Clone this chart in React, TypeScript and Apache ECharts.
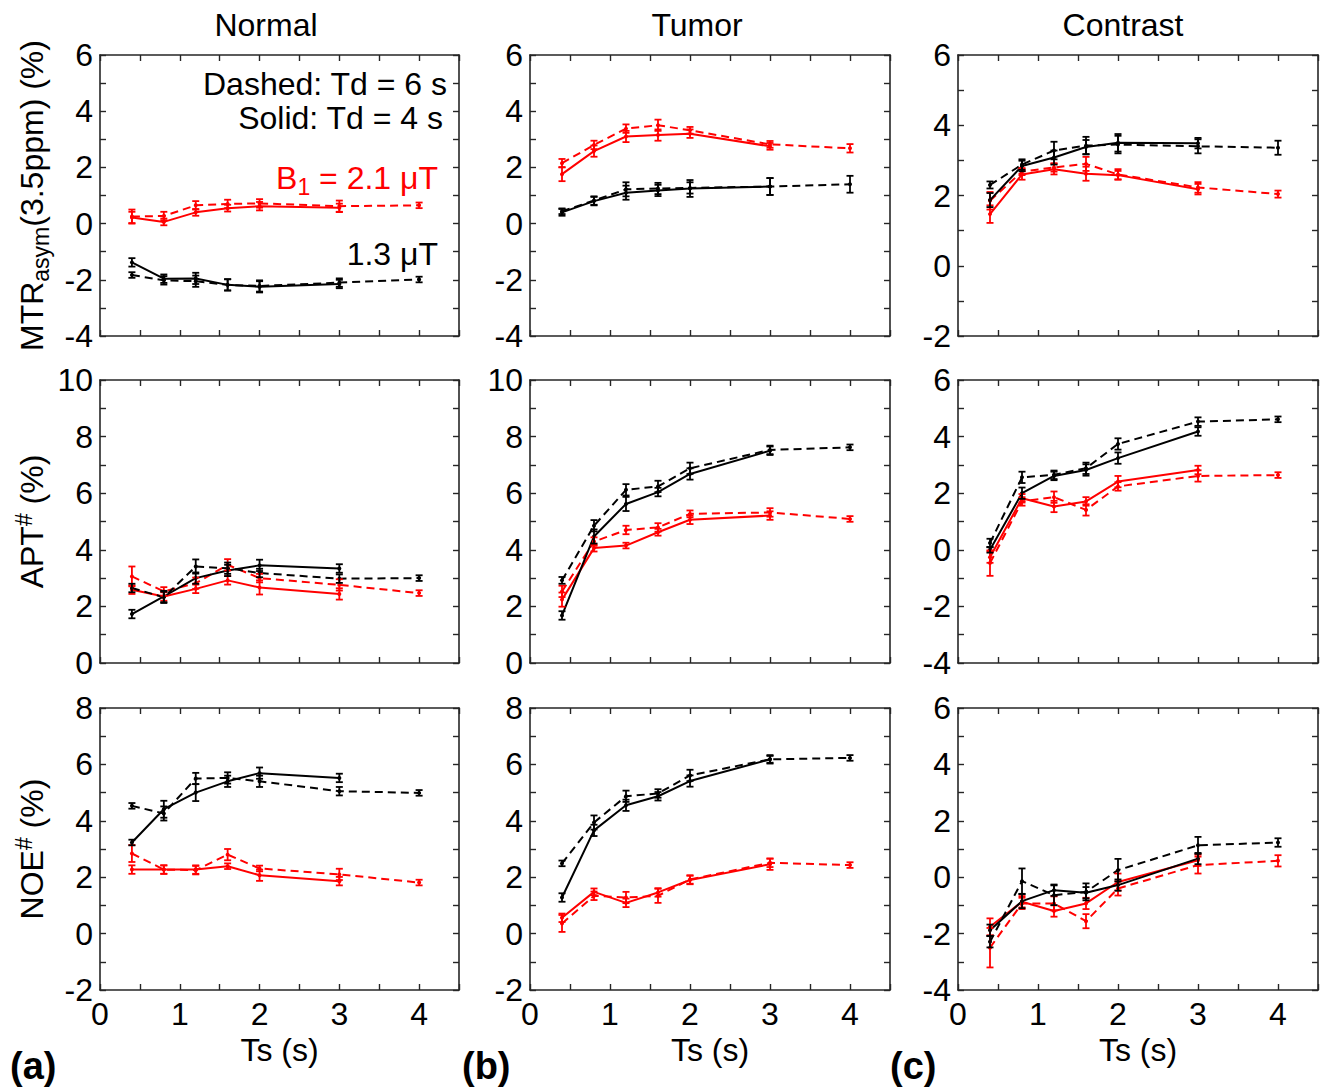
import React, { useEffect, useRef } from 'react';
import * as echarts from 'echarts';

// ---------- data ----------
const TS_SOLID = [0.4, 0.8, 1.2, 1.6, 2, 3];
const TS_DASHED = [0.4, 0.8, 1.2, 1.6, 2, 3, 4];
const COLUMN_TITLES = ['Normal', 'Tumor', 'Contrast'];
const PANEL_LABELS = ['(a)', '(b)', '(c)'];
const X_LABEL = 'Ts (s)';
const Y_RANGES = [
  [[-4, 6], [-4, 6], [-2, 6]],
  [[0, 10], [0, 10], [-4, 6]],
  [[-2, 8], [-2, 8], [-4, 6]],
];

// MTRasym(3.5ppm)
const mtrNormalRedDashed = [0.25, 0.27, 0.65, 0.7, 0.72, 0.62, 0.65];
const mtrNormalRedDashedErr = [0.25, 0.15, 0.15, 0.15, 0.15, 0.2, 0.1];
const mtrNormalRedSolid = [0.22, 0.06, 0.4, 0.55, 0.62, 0.56];
const mtrNormalRedSolidErr = [0.2, 0.12, 0.12, 0.12, 0.15, 0.15];
const mtrNormalBlackSolid = [-1.38, -1.96, -1.95, -2.18, -2.25, -2.15];
const mtrNormalBlackSolidErr = [0.15, 0.15, 0.2, 0.2, 0.2, 0.15];
const mtrNormalBlackDashed = [-1.83, -2.02, -2.05, -2.18, -2.22, -2.1, -1.99];
const mtrNormalBlackDashedErr = [0.1, 0.15, 0.2, 0.2, 0.2, 0.15, 0.1];

const mtrTumorRedDashed = [2.15, 2.8, 3.38, 3.5, 3.32, 2.82, 2.68];
const mtrTumorRedDashedErr = [0.15, 0.15, 0.15, 0.2, 0.12, 0.12, 0.15];
const mtrTumorRedSolid = [1.76, 2.58, 3.1, 3.15, 3.2, 2.75];
const mtrTumorRedSolidErr = [0.25, 0.2, 0.2, 0.2, 0.15, 0.12];
const mtrTumorBlackSolid = [0.4, 0.8, 1.1, 1.18, 1.25, 1.32];
const mtrTumorBlackSolidErr = [0.12, 0.15, 0.25, 0.2, 0.3, 0.3];
const mtrTumorBlackDashed = [0.44, 0.82, 1.22, 1.25, 1.27, 1.32, 1.4];
const mtrTumorBlackDashedErr = [0.1, 0.15, 0.25, 0.2, 0.2, 0.3, 0.3];

const mtrContrastBlackDashed = [2.3, 2.88, 3.28, 3.42, 3.45, 3.4, 3.36];
const mtrContrastBlackDashedErr = [0.1, 0.15, 0.25, 0.25, 0.25, 0.2, 0.2];
const mtrContrastBlackSolid = [1.87, 2.84, 3.08, 3.38, 3.5, 3.49];
const mtrContrastBlackSolidErr = [0.2, 0.15, 0.2, 0.2, 0.25, 0.15];
const mtrContrastRedDashed = [1.85, 2.68, 2.8, 2.9, 2.6, 2.23, 2.04];
const mtrContrastRedDashedErr = [0.25, 0.1, 0.12, 0.2, 0.15, 0.15, 0.1];
const mtrContrastRedSolid = [1.47, 2.6, 2.75, 2.62, 2.58, 2.18];
const mtrContrastRedSolidErr = [0.25, 0.15, 0.15, 0.2, 0.12, 0.15];

// APT#
const aptNormalBlackSolid = [1.73, 2.35, 3.0, 3.27, 3.45, 3.34];
const aptNormalBlackSolidErr = [0.15, 0.2, 0.2, 0.2, 0.2, 0.15];
const aptNormalBlackDashed = [2.65, 2.32, 3.41, 3.35, 3.18, 2.98, 3.0];
const aptNormalBlackDashedErr = [0.15, 0.2, 0.25, 0.2, 0.15, 0.15, 0.1];
const aptNormalRedDashed = [3.06, 2.53, 2.82, 3.47, 3.0, 2.76, 2.47];
const aptNormalRedDashedErr = [0.35, 0.15, 0.2, 0.2, 0.15, 0.2, 0.1];
const aptNormalRedSolid = [2.59, 2.35, 2.62, 2.92, 2.67, 2.44];
const aptNormalRedSolidErr = [0.15, 0.15, 0.15, 0.15, 0.25, 0.2];

const aptTumorBlackDashed = [2.92, 4.85, 6.12, 6.24, 6.88, 7.53, 7.62];
const aptTumorBlackDashedErr = [0.12, 0.2, 0.2, 0.2, 0.2, 0.15, 0.1];
const aptTumorBlackSolid = [1.68, 4.47, 5.62, 6.04, 6.68, 7.5];
const aptTumorBlackSolidErr = [0.15, 0.25, 0.25, 0.15, 0.2, 0.15];
const aptTumorRedDashed = [2.53, 4.29, 4.7, 4.79, 5.27, 5.32, 5.09];
const aptTumorRedDashedErr = [0.2, 0.15, 0.15, 0.15, 0.12, 0.15, 0.1];
const aptTumorRedSolid = [2.24, 4.06, 4.15, 4.62, 5.06, 5.21];
const aptTumorRedSolidErr = [0.25, 0.12, 0.1, 0.12, 0.15, 0.15];

const aptContrastBlackDashed = [0.24, 2.56, 2.65, 2.88, 3.74, 4.53, 4.61];
const aptContrastBlackDashedErr = [0.15, 0.2, 0.15, 0.2, 0.2, 0.15, 0.1];
const aptContrastBlackSolid = [0.0, 2.0, 2.61, 2.82, 3.24, 4.18];
const aptContrastBlackSolidErr = [0.1, 0.2, 0.15, 0.2, 0.2, 0.15];
const aptContrastRedDashed = [-0.47, 1.71, 1.86, 1.41, 2.24, 2.61, 2.64];
const aptContrastRedDashedErr = [0.45, 0.15, 0.2, 0.2, 0.15, 0.2, 0.1];
const aptContrastRedSolid = [-0.26, 1.82, 1.53, 1.71, 2.41, 2.82];
const aptContrastRedSolidErr = [0.2, 0.15, 0.2, 0.15, 0.2, 0.15];

// NOE#
const noeNormalBlackDashed = [4.53, 4.26, 5.5, 5.52, 5.4, 5.05, 4.99];
const noeNormalBlackDashedErr = [0.1, 0.25, 0.2, 0.2, 0.2, 0.15, 0.1];
const noeNormalBlackSolid = [3.23, 4.41, 5.0, 5.4, 5.69, 5.52];
const noeNormalBlackSolidErr = [0.1, 0.3, 0.3, 0.2, 0.2, 0.15];
const noeNormalRedDashed = [2.84, 2.27, 2.25, 2.8, 2.31, 2.1, 1.81];
const noeNormalRedDashedErr = [0.3, 0.15, 0.15, 0.2, 0.1, 0.2, 0.1];
const noeNormalRedSolid = [2.27, 2.27, 2.27, 2.39, 2.07, 1.86];
const noeNormalRedSolidErr = [0.15, 0.15, 0.15, 0.1, 0.2, 0.15];

const noeTumorBlackDashed = [2.49, 3.94, 4.87, 4.97, 5.61, 6.18, 6.23];
const noeTumorBlackDashedErr = [0.1, 0.25, 0.2, 0.15, 0.2, 0.12, 0.1];
const noeTumorBlackSolid = [1.28, 3.66, 4.55, 4.87, 5.41, 6.18];
const noeTumorBlackSolidErr = [0.15, 0.2, 0.2, 0.15, 0.2, 0.15];
const noeTumorRedDashed = [0.36, 1.34, 1.28, 1.34, 1.92, 2.51, 2.43];
const noeTumorRedDashedErr = [0.3, 0.15, 0.2, 0.25, 0.15, 0.15, 0.1];
const noeTumorRedSolid = [0.56, 1.48, 1.09, 1.46, 1.9, 2.46];
const noeTumorRedSolidErr = [0.15, 0.12, 0.15, 0.15, 0.15, 0.2];

const noeContrastBlackDashed = [-2.29, -0.14, -0.64, -0.52, 0.25, 1.13, 1.23];
const noeContrastBlackDashedErr = [0.2, 0.45, 0.35, 0.3, 0.4, 0.3, 0.15];
const noeContrastBlackSolid = [-1.88, -0.85, -0.46, -0.55, -0.28, 0.66];
const noeContrastBlackSolidErr = [0.2, 0.25, 0.2, 0.2, 0.2, 0.2];
const noeContrastRedDashed = [-2.5, -0.93, -0.93, -1.56, -0.4, 0.43, 0.58];
const noeContrastRedDashedErr = [0.7, 0.2, 0.25, 0.25, 0.25, 0.3, 0.2];
const noeContrastRedSolid = [-1.76, -0.87, -1.2, -0.93, -0.17, 0.6];
const noeContrastRedSolidErr = [0.3, 0.2, 0.2, 0.2, 0.3, 0.2];

type SeriesDef = { v: number[]; e: number[]; red: boolean; dashed: boolean };
const mk = (v: number[], e: number[], red: boolean, dashed: boolean): SeriesDef => ({ v, e, red, dashed });

// panels[row][col]
const PANELS: SeriesDef[][][] = [
  [
    [mk(mtrNormalRedDashed, mtrNormalRedDashedErr, true, true), mk(mtrNormalRedSolid, mtrNormalRedSolidErr, true, false),
     mk(mtrNormalBlackDashed, mtrNormalBlackDashedErr, false, true), mk(mtrNormalBlackSolid, mtrNormalBlackSolidErr, false, false)],
    [mk(mtrTumorRedDashed, mtrTumorRedDashedErr, true, true), mk(mtrTumorRedSolid, mtrTumorRedSolidErr, true, false),
     mk(mtrTumorBlackDashed, mtrTumorBlackDashedErr, false, true), mk(mtrTumorBlackSolid, mtrTumorBlackSolidErr, false, false)],
    [mk(mtrContrastRedDashed, mtrContrastRedDashedErr, true, true), mk(mtrContrastRedSolid, mtrContrastRedSolidErr, true, false),
     mk(mtrContrastBlackDashed, mtrContrastBlackDashedErr, false, true), mk(mtrContrastBlackSolid, mtrContrastBlackSolidErr, false, false)],
  ],
  [
    [mk(aptNormalRedDashed, aptNormalRedDashedErr, true, true), mk(aptNormalRedSolid, aptNormalRedSolidErr, true, false),
     mk(aptNormalBlackDashed, aptNormalBlackDashedErr, false, true), mk(aptNormalBlackSolid, aptNormalBlackSolidErr, false, false)],
    [mk(aptTumorRedDashed, aptTumorRedDashedErr, true, true), mk(aptTumorRedSolid, aptTumorRedSolidErr, true, false),
     mk(aptTumorBlackDashed, aptTumorBlackDashedErr, false, true), mk(aptTumorBlackSolid, aptTumorBlackSolidErr, false, false)],
    [mk(aptContrastRedDashed, aptContrastRedDashedErr, true, true), mk(aptContrastRedSolid, aptContrastRedSolidErr, true, false),
     mk(aptContrastBlackDashed, aptContrastBlackDashedErr, false, true), mk(aptContrastBlackSolid, aptContrastBlackSolidErr, false, false)],
  ],
  [
    [mk(noeNormalRedDashed, noeNormalRedDashedErr, true, true), mk(noeNormalRedSolid, noeNormalRedSolidErr, true, false),
     mk(noeNormalBlackDashed, noeNormalBlackDashedErr, false, true), mk(noeNormalBlackSolid, noeNormalBlackSolidErr, false, false)],
    [mk(noeTumorRedDashed, noeTumorRedDashedErr, true, true), mk(noeTumorRedSolid, noeTumorRedSolidErr, true, false),
     mk(noeTumorBlackDashed, noeTumorBlackDashedErr, false, true), mk(noeTumorBlackSolid, noeTumorBlackSolidErr, false, false)],
    [mk(noeContrastRedDashed, noeContrastRedDashedErr, true, true), mk(noeContrastRedSolid, noeContrastRedSolidErr, true, false),
     mk(noeContrastBlackDashed, noeContrastBlackDashedErr, false, true), mk(noeContrastBlackSolid, noeContrastBlackSolidErr, false, false)],
  ],
];

// ---------- layout / style ----------
const FONT = "'Liberation Sans', Arial, Helvetica, sans-serif";
const FS = 32;
const FS_SUB = 23;
const AX = '#262626';
const RED = '#ff0000';
const BLACK = '#000000';
const GRID_LEFT = [100, 530, 958];
const GRID_WIDTH = [359, 360, 360];
const GRID_TOP = [55, 380, 708];
const GRID_HEIGHT = [281, 283, 282];

const errRenderer = (color: string) => (params: any, api: any) => {
  const x = api.value(0);
  const y = api.value(1);
  const e = api.value(2);
  const p1 = api.coord([x, y + e]);
  const p2 = api.coord([x, y - e]);
  const hw = 3.5;
  const style = { stroke: color, lineWidth: 1.8, fill: 'none' };
  return {
    type: 'group',
    children: [
      { type: 'line', shape: { x1: p1[0], y1: p1[1], x2: p2[0], y2: p2[1] }, style },
      { type: 'line', shape: { x1: p1[0] - hw, y1: p1[1], x2: p1[0] + hw, y2: p1[1] }, style },
      { type: 'line', shape: { x1: p2[0] - hw, y1: p2[1], x2: p2[0] + hw, y2: p2[1] }, style },
    ],
  };
};

function buildOption() {
  const grid: any[] = [];
  const xAxis: any[] = [];
  const yAxis: any[] = [];
  const series: any[] = [];
  const axisLine = { show: true, onZero: false, lineStyle: { color: AX, width: 1.6 } };
  const axisTick = { show: true, inside: true, length: 6, lineStyle: { color: AX, width: 1.4 } };
  let gi = 0;
  for (let r = 0; r < 3; r++) {
    for (let c = 0; c < 3; c++) {
      grid.push({ left: GRID_LEFT[c], top: GRID_TOP[r], width: GRID_WIDTH[c], height: GRID_HEIGHT[r], containLabel: false });
      const [ymin, ymax] = Y_RANGES[r][c];
      const xBase = { type: 'value', gridIndex: gi, min: 0, max: 4.5, interval: 0.5, axisLine, axisTick, splitLine: { show: false } };
      xAxis.push({
        ...xBase,
        position: 'bottom',
        axisLabel: {
          show: r === 2,
          formatter: (v: number) => (Math.abs(v - Math.round(v)) < 1e-6 ? String(Math.round(v)) : ''),
          fontSize: FS, color: '#000', fontFamily: FONT, margin: 8,
        },
      });
      xAxis.push({ ...xBase, position: 'top', axisLabel: { show: false } });
      const yBase = { type: 'value', gridIndex: gi, min: ymin, max: ymax, interval: 1, axisLine, axisTick, splitLine: { show: false } };
      yAxis.push({
        ...yBase,
        position: 'left',
        axisLabel: {
          formatter: (v: number) => (Math.round(v) % 2 === 0 ? String(Math.round(v)) : ''),
          fontSize: FS, color: '#000', fontFamily: FONT, margin: 7,
        },
      });
      yAxis.push({ ...yBase, position: 'right', axisLabel: { show: false } });
      for (const s of PANELS[r][c]) {
        const xs = s.dashed ? TS_DASHED : TS_SOLID;
        const color = s.red ? RED : BLACK;
        series.push({
          type: 'line',
          xAxisIndex: 2 * gi,
          yAxisIndex: 2 * gi,
          data: xs.map((x, i) => [x, s.v[i]]),
          symbol: 'circle',
          symbolSize: 4,
          itemStyle: { color },
          lineStyle: { color, width: 2, type: s.dashed ? [8, 5] : 'solid' },
          silent: true,
          z: 3,
        });
        series.push({
          type: 'custom',
          coordinateSystem: 'cartesian2d',
          xAxisIndex: 2 * gi,
          yAxisIndex: 2 * gi,
          data: xs.map((x, i) => [x, s.v[i], s.e[i]]),
          encode: { x: 0, y: 1 },
          renderItem: errRenderer(color),
          silent: true,
          z: 4,
        });
      }
      gi++;
    }
  }

  const graphic: any[] = [];
  const titleX = [266, 697, 1123];
  COLUMN_TITLES.forEach((t, c) => {
    graphic.push({ type: 'text', x: titleX[c], y: 25, style: { text: t, font: `${FS}px ${FONT}`, fill: '#000', textAlign: 'center', textVerticalAlign: 'middle' } });
    graphic.push({ type: 'text', x: GRID_LEFT[c] + GRID_WIDTH[c] / 2, y: 1050, style: { text: X_LABEL, font: `${FS}px ${FONT}`, fill: '#000', textAlign: 'center', textVerticalAlign: 'middle' } });
  });
  const labelX = [10, 462, 890];
  PANEL_LABELS.forEach((t, c) => {
    graphic.push({ type: 'text', x: labelX[c], y: 1066, style: { text: t, font: `bold 38px ${FONT}`, fill: '#000', textAlign: 'left', textVerticalAlign: 'middle' } });
  });
  const rich = {
    n: { fontSize: FS, fontFamily: FONT, lineHeight: 40, fill: '#000', color: '#000' },
    s: { fontSize: FS_SUB, fontFamily: FONT, lineHeight: 22, verticalAlign: 'bottom', fill: '#000', color: '#000' },
    p: { fontSize: FS_SUB, fontFamily: FONT, lineHeight: 22, verticalAlign: 'top', fill: '#000', color: '#000' },
  };
  const yNames = ['{n|MTR}{s|asym}{n|(3.5ppm) (%)}', '{n|APT}{p|#}{n| (%)}', '{n|NOE}{p|#}{n| (%)}'];
  yNames.forEach((t, r) => {
    graphic.push({
      type: 'text', x: 32, y: GRID_TOP[r] + GRID_HEIGHT[r] / 2, rotation: Math.PI / 2,
      style: { text: t, rich, textAlign: 'center', textVerticalAlign: 'middle' },
    });
  });
  // annotations in panel (a)
  graphic.push({ type: 'text', x: 447, y: 84, style: { text: 'Dashed: Td = 6 s', font: `${FS}px ${FONT}`, fill: '#000', textAlign: 'right', textVerticalAlign: 'middle' } });
  graphic.push({ type: 'text', x: 443, y: 118, style: { text: 'Solid: Td = 4 s', font: `${FS}px ${FONT}`, fill: '#000', textAlign: 'right', textVerticalAlign: 'middle' } });
  graphic.push({
    type: 'text', x: 438, y: 178,
    style: {
      text: '{r|B}{rs|1}{r| = 2.1 μT}', textAlign: 'right', textVerticalAlign: 'middle',
      rich: {
        r: { fontSize: FS, fontFamily: FONT, lineHeight: 40, fill: RED, color: RED },
        rs: { fontSize: FS_SUB, fontFamily: FONT, lineHeight: 22, verticalAlign: 'bottom', fill: RED, color: RED },
      },
    },
  });
  graphic.push({ type: 'text', x: 438, y: 254, style: { text: '1.3 μT', font: `${FS}px ${FONT}`, fill: '#000', textAlign: 'right', textVerticalAlign: 'middle' } });

  return { animation: false, backgroundColor: '#fff', grid, xAxis, yAxis, series, graphic };
}

export default function App() {
  const ref = useRef<HTMLDivElement>(null);
  useEffect(() => {
    if (!ref.current) return;
    const chart = echarts.init(ref.current, undefined, { renderer: 'svg' });
    chart.setOption(buildOption() as any);
    return () => chart.dispose();
  }, []);
  return <div ref={ref} style={{ position: 'absolute', left: 0, top: 0, width: 1326, height: 1089, background: '#fff' }} />;
}
